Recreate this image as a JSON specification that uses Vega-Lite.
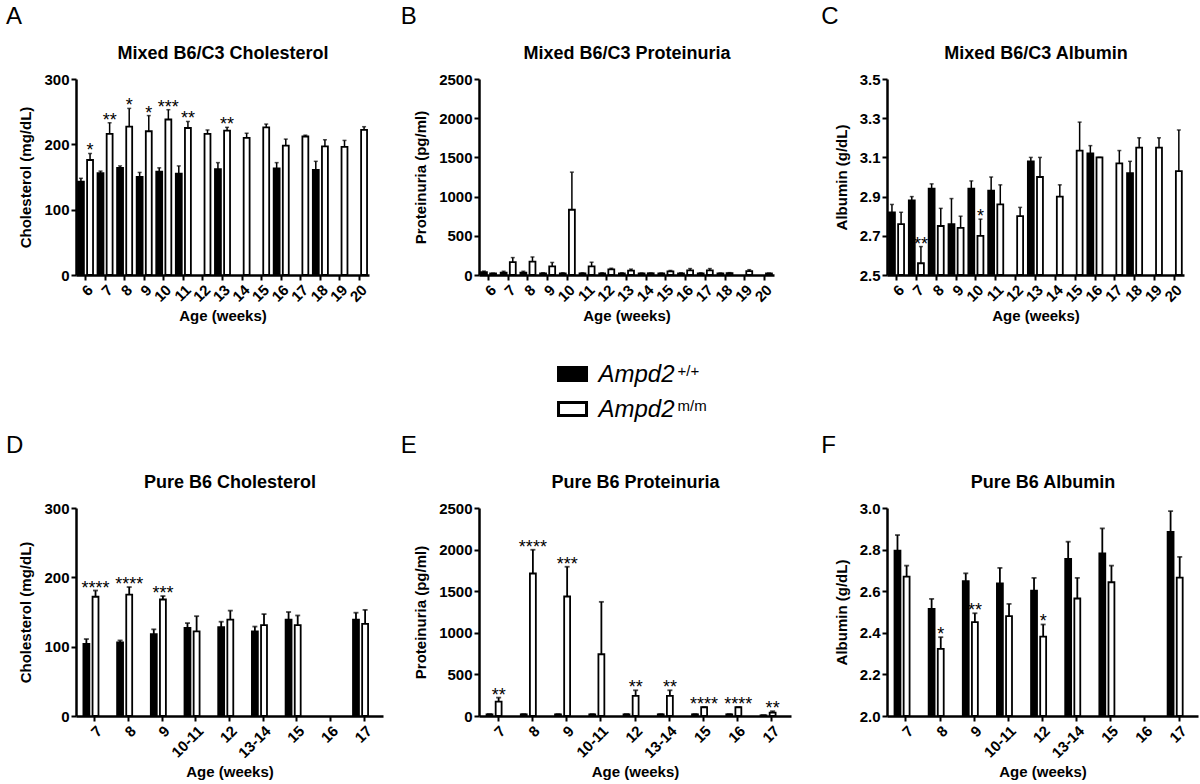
{
  "$schema": "https://vega.github.io/schema/vega-lite/v6.json",
  "padding": 5,
  "background": "white",
  "columns": 3,
  "bounds": "flush",
  "align": "each",
  "spacing": {"row": 81.5, "column": 96},
  "config": {
    "font": "Liberation Sans",
    "view": {"stroke": null},
    "axis": {"domainColor": "#000", "domainWidth": 2.5, "tickColor": "#000", "tickWidth": 2, "tickSize": 5, "labelColor": "#000", "labelFont": "Liberation Sans", "labelFontWeight": "bold", "labelFontSize": 15, "titleColor": "#000", "titleFont": "Liberation Sans", "titleFontWeight": "bold", "titleFontSize": 15, "grid": false, "labelPadding": 2},
    "axisY": {"titlePadding": 10},
    "axisX": {"labelAngle": -45, "titlePadding": 4},
    "title": {"font": "Liberation Sans", "fontSize": 24, "fontWeight": "normal", "anchor": "start", "frame": "bounds", "color": "#000", "offset": 15, "dx": -13}
  },
  "datasets": {
    "A": [
      {"age":"6","geno":"wt","mean":143,"hi":148},
      {"age":"6","geno":"mm","mean":176,"hi":186,"sig":"*"},
      {"age":"7","geno":"wt","mean":156,"hi":159},
      {"age":"7","geno":"mm","mean":216,"hi":233,"sig":"**"},
      {"age":"8","geno":"wt","mean":164,"hi":167},
      {"age":"8","geno":"mm","mean":227,"hi":255,"sig":"*"},
      {"age":"9","geno":"wt","mean":150,"hi":157},
      {"age":"9","geno":"mm","mean":220,"hi":244,"sig":"*"},
      {"age":"10","geno":"wt","mean":158,"hi":164},
      {"age":"10","geno":"mm","mean":238,"hi":253,"sig":"***"},
      {"age":"11","geno":"wt","mean":155,"hi":167},
      {"age":"11","geno":"mm","mean":225,"hi":235,"sig":"**"},
      {"age":"12","geno":"mm","mean":216,"hi":222},
      {"age":"13","geno":"wt","mean":162,"hi":172},
      {"age":"13","geno":"mm","mean":221,"hi":226,"sig":"**"},
      {"age":"14","geno":"mm","mean":210,"hi":217},
      {"age":"15","geno":"mm","mean":226,"hi":231},
      {"age":"16","geno":"wt","mean":163,"hi":172},
      {"age":"16","geno":"mm","mean":198,"hi":208},
      {"age":"17","geno":"mm","mean":212,"hi":214},
      {"age":"18","geno":"wt","mean":161,"hi":174},
      {"age":"18","geno":"mm","mean":197,"hi":207},
      {"age":"19","geno":"mm","mean":196,"hi":206},
      {"age":"20","geno":"mm","mean":222,"hi":227}
    ],
    "B": [
      {"age":"6","geno":"wt","mean":35,"hi":50},
      {"age":"6","geno":"mm","mean":20,"hi":24},
      {"age":"7","geno":"wt","mean":30,"hi":48},
      {"age":"7","geno":"mm","mean":165,"hi":222},
      {"age":"8","geno":"wt","mean":30,"hi":48},
      {"age":"8","geno":"mm","mean":170,"hi":230},
      {"age":"9","geno":"wt","mean":20,"hi":30},
      {"age":"9","geno":"mm","mean":110,"hi":160},
      {"age":"10","geno":"wt","mean":20,"hi":28},
      {"age":"10","geno":"mm","mean":832,"hi":1312},
      {"age":"11","geno":"wt","mean":20,"hi":28},
      {"age":"11","geno":"mm","mean":110,"hi":163},
      {"age":"12","geno":"wt","mean":20,"hi":28},
      {"age":"12","geno":"mm","mean":73,"hi":86},
      {"age":"13","geno":"wt","mean":20,"hi":28},
      {"age":"13","geno":"mm","mean":55,"hi":75},
      {"age":"14","geno":"wt","mean":20,"hi":26},
      {"age":"14","geno":"mm","mean":22,"hi":26},
      {"age":"15","geno":"wt","mean":20,"hi":26},
      {"age":"15","geno":"mm","mean":45,"hi":58},
      {"age":"16","geno":"wt","mean":20,"hi":28},
      {"age":"16","geno":"mm","mean":60,"hi":82},
      {"age":"17","geno":"wt","mean":20,"hi":28},
      {"age":"17","geno":"mm","mean":60,"hi":82},
      {"age":"18","geno":"wt","mean":20,"hi":26},
      {"age":"18","geno":"mm","mean":25,"hi":30},
      {"age":"19","geno":"mm","mean":50,"hi":68},
      {"age":"20","geno":"mm","mean":20,"hi":25}
    ],
    "C": [
      {"age":"6","geno":"wt","mean":2.82,"hi":2.86},
      {"age":"6","geno":"mm","mean":2.76,"hi":2.82},
      {"age":"7","geno":"wt","mean":2.88,"hi":2.9},
      {"age":"7","geno":"mm","mean":2.56,"hi":2.645,"sig":"**"},
      {"age":"8","geno":"wt","mean":2.94,"hi":2.965},
      {"age":"8","geno":"mm","mean":2.75,"hi":2.84},
      {"age":"9","geno":"wt","mean":2.76,"hi":2.89},
      {"age":"9","geno":"mm","mean":2.74,"hi":2.8},
      {"age":"10","geno":"wt","mean":2.94,"hi":2.98},
      {"age":"10","geno":"mm","mean":2.7,"hi":2.785,"sig":"*"},
      {"age":"11","geno":"wt","mean":2.93,"hi":3.0},
      {"age":"11","geno":"mm","mean":2.86,"hi":2.96},
      {"age":"12","geno":"mm","mean":2.8,"hi":2.845},
      {"age":"13","geno":"wt","mean":3.08,"hi":3.1},
      {"age":"13","geno":"mm","mean":3.0,"hi":3.1},
      {"age":"14","geno":"mm","mean":2.9,"hi":2.96},
      {"age":"15","geno":"mm","mean":3.135,"hi":3.28},
      {"age":"16","geno":"wt","mean":3.12,"hi":3.16},
      {"age":"16","geno":"mm","mean":3.1,"hi":3.1},
      {"age":"17","geno":"mm","mean":3.07,"hi":3.135},
      {"age":"18","geno":"wt","mean":3.02,"hi":3.08},
      {"age":"18","geno":"mm","mean":3.15,"hi":3.2},
      {"age":"19","geno":"mm","mean":3.15,"hi":3.2},
      {"age":"20","geno":"mm","mean":3.03,"hi":3.24}
    ],
    "D": [
      {"age":"7","geno":"wt","mean":104,"hi":111},
      {"age":"7","geno":"mm","mean":172,"hi":181,"sig":"****"},
      {"age":"8","geno":"wt","mean":106,"hi":109},
      {"age":"8","geno":"mm","mean":175,"hi":186,"sig":"****"},
      {"age":"9","geno":"wt","mean":118,"hi":125},
      {"age":"9","geno":"mm","mean":168,"hi":173,"sig":"***"},
      {"age":"10-11","geno":"wt","mean":127,"hi":134},
      {"age":"10-11","geno":"mm","mean":122,"hi":144},
      {"age":"12","geno":"wt","mean":128,"hi":136},
      {"age":"12","geno":"mm","mean":139,"hi":152},
      {"age":"13-14","geno":"wt","mean":122,"hi":129},
      {"age":"13-14","geno":"mm","mean":131,"hi":147},
      {"age":"15","geno":"wt","mean":139,"hi":150},
      {"age":"15","geno":"mm","mean":131,"hi":145},
      {"age":"17","geno":"wt","mean":139,"hi":149},
      {"age":"17","geno":"mm","mean":133,"hi":153}
    ],
    "E": [
      {"age":"7","geno":"wt","mean":20,"hi":24},
      {"age":"7","geno":"mm","mean":172,"hi":221,"sig":"**"},
      {"age":"8","geno":"wt","mean":20,"hi":24},
      {"age":"8","geno":"mm","mean":1713,"hi":1998,"sig":"****"},
      {"age":"9","geno":"wt","mean":20,"hi":24},
      {"age":"9","geno":"mm","mean":1436,"hi":1794,"sig":"***"},
      {"age":"10-11","geno":"wt","mean":20,"hi":24},
      {"age":"10-11","geno":"mm","mean":742,"hi":1372},
      {"age":"12","geno":"wt","mean":20,"hi":24},
      {"age":"12","geno":"mm","mean":241,"hi":309,"sig":"**"},
      {"age":"13-14","geno":"wt","mean":20,"hi":24},
      {"age":"13-14","geno":"mm","mean":241,"hi":309,"sig":"**"},
      {"age":"15","geno":"wt","mean":20,"hi":24},
      {"age":"15","geno":"mm","mean":105,"hi":108,"sig":"****"},
      {"age":"16","geno":"wt","mean":20,"hi":24},
      {"age":"16","geno":"mm","mean":105,"hi":108,"sig":"****"},
      {"age":"17","geno":"wt","mean":8,"hi":10},
      {"age":"17","geno":"mm","mean":40,"hi":58,"sig":"**"}
    ],
    "F": [
      {"age":"7","geno":"wt","mean":2.795,"hi":2.87},
      {"age":"7","geno":"mm","mean":2.67,"hi":2.723},
      {"age":"8","geno":"wt","mean":2.515,"hi":2.563},
      {"age":"8","geno":"mm","mean":2.323,"hi":2.379,"sig":"*"},
      {"age":"9","geno":"wt","mean":2.648,"hi":2.686},
      {"age":"9","geno":"mm","mean":2.451,"hi":2.494,"sig":"**"},
      {"age":"10-11","geno":"wt","mean":2.638,"hi":2.712},
      {"age":"10-11","geno":"mm","mean":2.48,"hi":2.539},
      {"age":"12","geno":"wt","mean":2.603,"hi":2.664},
      {"age":"12","geno":"mm","mean":2.382,"hi":2.44,"sig":"*"},
      {"age":"13-14","geno":"wt","mean":2.755,"hi":2.838},
      {"age":"13-14","geno":"mm","mean":2.565,"hi":2.664},
      {"age":"15","geno":"wt","mean":2.782,"hi":2.902},
      {"age":"15","geno":"mm","mean":2.643,"hi":2.723},
      {"age":"17","geno":"wt","mean":2.885,"hi":2.985},
      {"age":"17","geno":"mm","mean":2.665,"hi":2.765}
    ],
    "legend": [
      {"geno":"wt","name":"Ampd2","sup":"+/+"},
      {"geno":"mm","name":"Ampd2","sup":"m/m"}
    ]
  },
  "concat": [
    {
      "width": 293, "height": 196,
      "title": {"text": "A"},
      "data": {"name": "A"},
      "encoding": {
        "x": {"field": "age", "type": "nominal", "sort": null, "scale": {"domain": ["6","7","8","9","10","11","12","13","14","15","16","17","18","19","20"], "paddingInner": 0.23, "paddingOuter": 0.1}, "axis": null},
        "xOffset": {"field": "geno", "type": "nominal", "scale": {"domain": ["wt","mm"], "paddingInner": 0.35, "paddingOuter": 0}},
        "y": {"field": "mean", "type": "quantitative", "scale": {"domain": [0, 300], "nice": false}, "axis": {"title": "Cholesterol (mg/dL)", "values": [0, 100, 200, 300], "format": "d"}}
      },
      "layer": [
        {"mark": {"type": "bar", "stroke": "#000", "strokeWidth": 1.8},
         "encoding": {
           "x": {"field": "age", "type": "nominal", "sort": null, "scale": {"domain": ["6","7","8","9","10","11","12","13","14","15","16","17","18","19","20"], "paddingInner": 0.23, "paddingOuter": 0.1}, "axis": {"orient": "bottom", "title": "Age (weeks)"}},
           "fill": {"field": "geno", "type": "nominal", "scale": {"domain": ["wt","mm"], "range": ["#000","#fff"]}, "legend": null}}},
        {"mark": {"type": "rule", "color": "#000", "strokeWidth": 1.5},
         "encoding": {"y2": {"field": "hi"}}},
        {"mark": {"type": "tick", "orient": "horizontal", "size": 4, "thickness": 1.5, "color": "#000"},
         "encoding": {"y": {"field": "hi", "type": "quantitative", "scale": {"domain": [0, 300], "nice": false}, "axis": {"title": "Cholesterol (mg/dL)", "values": [0, 100, 200, 300], "format": "d"}}}},
        {"transform": [{"filter": "datum.sig"}],
         "mark": {"type": "text", "fontSize": 18, "baseline": "alphabetic", "dy": 3, "color": "#000"},
         "encoding": {
           "x": {"field": "age", "type": "nominal", "sort": null, "scale": {"domain": ["6","7","8","9","10","11","12","13","14","15","16","17","18","19","20"], "paddingInner": 0.23, "paddingOuter": 0.1}, "axis": {"orient": "top", "title": "Mixed B6/C3 Cholesterol", "labels": false, "ticks": false, "domain": false, "titleFontSize": 18, "titlePadding": 17}},
           "y": {"field": "hi", "type": "quantitative", "scale": {"domain": [0, 300], "nice": false}, "axis": {"title": "Cholesterol (mg/dL)", "values": [0, 100, 200, 300], "format": "d"}},
           "text": {"field": "sig"}}}
      ]
    },
    {
      "width": 295, "height": 196,
      "title": {"text": "B"},
      "data": {"name": "B"},
      "encoding": {
        "x": {"field": "age", "type": "nominal", "sort": null, "scale": {"domain": ["6","7","8","9","10","11","12","13","14","15","16","17","18","19","20"], "paddingInner": 0.23, "paddingOuter": 0.1}, "axis": null},
        "xOffset": {"field": "geno", "type": "nominal", "scale": {"domain": ["wt","mm"], "paddingInner": 0.35, "paddingOuter": 0}},
        "y": {"field": "mean", "type": "quantitative", "scale": {"domain": [0, 2500], "nice": false}, "axis": {"title": "Proteinuria (pg/ml)", "values": [0, 500, 1000, 1500, 2000, 2500], "format": "d"}}
      },
      "layer": [
        {"mark": {"type": "bar", "stroke": "#000", "strokeWidth": 1.8},
         "encoding": {
           "x": {"field": "age", "type": "nominal", "sort": null, "scale": {"domain": ["6","7","8","9","10","11","12","13","14","15","16","17","18","19","20"], "paddingInner": 0.23, "paddingOuter": 0.1}, "axis": {"orient": "bottom", "title": "Age (weeks)"}},
           "fill": {"field": "geno", "type": "nominal", "scale": {"domain": ["wt","mm"], "range": ["#000","#fff"]}, "legend": null}}},
        {"mark": {"type": "rule", "color": "#000", "strokeWidth": 1.5},
         "encoding": {"y2": {"field": "hi"}}},
        {"mark": {"type": "tick", "orient": "horizontal", "size": 4, "thickness": 1.5, "color": "#000"},
         "encoding": {"y": {"field": "hi", "type": "quantitative", "scale": {"domain": [0, 2500], "nice": false}, "axis": {"title": "Proteinuria (pg/ml)", "values": [0, 500, 1000, 1500, 2000, 2500], "format": "d"}}}},
        {"transform": [{"filter": "datum.sig"}],
         "mark": {"type": "text", "fontSize": 18, "baseline": "alphabetic", "dy": 3, "color": "#000"},
         "encoding": {
           "x": {"field": "age", "type": "nominal", "sort": null, "scale": {"domain": ["6","7","8","9","10","11","12","13","14","15","16","17","18","19","20"], "paddingInner": 0.23, "paddingOuter": 0.1}, "axis": {"orient": "top", "title": "Mixed B6/C3 Proteinuria", "labels": false, "ticks": false, "domain": false, "titleFontSize": 18, "titlePadding": 17}},
           "y": {"field": "hi", "type": "quantitative", "scale": {"domain": [0, 2500], "nice": false}, "axis": {"title": "Proteinuria (pg/ml)", "values": [0, 500, 1000, 1500, 2000, 2500], "format": "d"}},
           "text": {"field": "sig"}}}
      ]
    },
    {
      "width": 297, "height": 196,
      "title": {"text": "C"},
      "data": {"name": "C"},
      "encoding": {
        "x": {"field": "age", "type": "nominal", "sort": null, "scale": {"domain": ["6","7","8","9","10","11","12","13","14","15","16","17","18","19","20"], "paddingInner": 0.23, "paddingOuter": 0.1}, "axis": null},
        "xOffset": {"field": "geno", "type": "nominal", "scale": {"domain": ["wt","mm"], "paddingInner": 0.35, "paddingOuter": 0}},
        "y": {"field": "mean", "type": "quantitative", "scale": {"domain": [2.5, 3.5], "nice": false, "zero": false}, "axis": {"title": "Albumin (g/dL)", "values": [2.5, 2.7, 2.9, 3.1, 3.3, 3.5], "format": ".1f"}}
      },
      "layer": [
        {"mark": {"type": "bar", "stroke": "#000", "strokeWidth": 1.8},
         "encoding": {
           "x": {"field": "age", "type": "nominal", "sort": null, "scale": {"domain": ["6","7","8","9","10","11","12","13","14","15","16","17","18","19","20"], "paddingInner": 0.23, "paddingOuter": 0.1}, "axis": {"orient": "bottom", "title": "Age (weeks)"}},
           "y2": {"datum": 2.5},
           "fill": {"field": "geno", "type": "nominal", "scale": {"domain": ["wt","mm"], "range": ["#000","#fff"]}, "legend": null}}},
        {"mark": {"type": "rule", "color": "#000", "strokeWidth": 1.5},
         "encoding": {"y2": {"field": "hi"}}},
        {"mark": {"type": "tick", "orient": "horizontal", "size": 4, "thickness": 1.5, "color": "#000"},
         "encoding": {"y": {"field": "hi", "type": "quantitative", "scale": {"domain": [2.5, 3.5], "nice": false, "zero": false}, "axis": {"title": "Albumin (g/dL)", "values": [2.5, 2.7, 2.9, 3.1, 3.3, 3.5], "format": ".1f"}}}},
        {"transform": [{"filter": "datum.sig"}],
         "mark": {"type": "text", "fontSize": 18, "baseline": "alphabetic", "dy": 3, "color": "#000"},
         "encoding": {
           "x": {"field": "age", "type": "nominal", "sort": null, "scale": {"domain": ["6","7","8","9","10","11","12","13","14","15","16","17","18","19","20"], "paddingInner": 0.23, "paddingOuter": 0.1}, "axis": {"orient": "top", "title": "Mixed B6/C3 Albumin", "labels": false, "ticks": false, "domain": false, "titleFontSize": 18, "titlePadding": 17}},
           "y": {"field": "hi", "type": "quantitative", "scale": {"domain": [2.5, 3.5], "nice": false, "zero": false}, "axis": {"title": "Albumin (g/dL)", "values": [2.5, 2.7, 2.9, 3.1, 3.3, 3.5], "format": ".1f"}},
           "text": {"field": "sig"}}}
      ]
    },
    {
      "width": 1, "height": 1,
      "data": {"values": [{"k": 1}]},
      "mark": {"type": "point", "opacity": 0},
      "encoding": {}
    },
    {
      "width": 213, "height": 70,
      "data": {"name": "legend"},
      "encoding": {
        "y": {"field": "geno", "type": "nominal", "sort": null, "scale": {"type": "point", "domain": ["wt","mm"], "padding": 0.5}, "axis": null}
      },
      "layer": [
        {"mark": {"type": "point", "shape": "M-1,-0.46H1V0.46H-1Z", "size": 784, "filled": true, "stroke": "#000", "strokeWidth": 3, "opacity": 1},
         "encoding": {
           "x": {"datum": 0, "type": "quantitative", "scale": {"domain": [-3.6, 4.6], "nice": false, "zero": false}, "axis": null},
           "fill": {"field": "geno", "type": "nominal", "scale": {"domain": ["wt","mm"], "range": ["#000","#fff"]}, "legend": null}}},
        {"mark": {"type": "text", "align": "left", "baseline": "alphabetic", "dy": 8, "fontSize": 24, "fontStyle": "italic", "color": "#000"},
         "encoding": {
           "x": {"datum": 1, "type": "quantitative", "scale": {"domain": [-3.6, 4.6], "nice": false, "zero": false}, "axis": null},
           "text": {"field": "name"}}},
        {"mark": {"type": "text", "align": "left", "baseline": "alphabetic", "dx": 79, "dy": 2, "fontSize": 15, "color": "#000"},
         "encoding": {
           "x": {"datum": 1, "type": "quantitative", "scale": {"domain": [-3.6, 4.6], "nice": false, "zero": false}, "axis": null},
           "text": {"field": "sup"}}}
      ]
    },
    {
      "width": 1, "height": 1,
      "data": {"values": [{"k": 1}]},
      "mark": {"type": "point", "opacity": 0},
      "encoding": {}
    },
    {
      "width": 307, "height": 208,
      "title": {"text": "D"},
      "data": {"name": "D"},
      "encoding": {
        "x": {"field": "age", "type": "nominal", "sort": null, "scale": {"domain": ["7","8","9","10-11","12","13-14","15","16","17"], "paddingInner": 0.33, "paddingOuter": 0.22}, "axis": null},
        "xOffset": {"field": "geno", "type": "nominal", "scale": {"domain": ["wt","mm"], "paddingInner": 0.35, "paddingOuter": 0}},
        "y": {"field": "mean", "type": "quantitative", "scale": {"domain": [0, 300], "nice": false}, "axis": {"title": "Cholesterol (mg/dL)", "values": [0, 100, 200, 300], "format": "d"}}
      },
      "layer": [
        {"mark": {"type": "bar", "stroke": "#000", "strokeWidth": 1.8},
         "encoding": {
           "x": {"field": "age", "type": "nominal", "sort": null, "scale": {"domain": ["7","8","9","10-11","12","13-14","15","16","17"], "paddingInner": 0.33, "paddingOuter": 0.22}, "axis": {"orient": "bottom", "title": "Age (weeks)"}},
           "fill": {"field": "geno", "type": "nominal", "scale": {"domain": ["wt","mm"], "range": ["#000","#fff"]}, "legend": null}}},
        {"mark": {"type": "rule", "color": "#000", "strokeWidth": 1.8},
         "encoding": {"y2": {"field": "hi"}}},
        {"mark": {"type": "tick", "orient": "horizontal", "size": 5, "thickness": 1.8, "color": "#000"},
         "encoding": {"y": {"field": "hi", "type": "quantitative", "scale": {"domain": [0, 300], "nice": false}, "axis": {"title": "Cholesterol (mg/dL)", "values": [0, 100, 200, 300], "format": "d"}}}},
        {"transform": [{"filter": "datum.sig"}],
         "mark": {"type": "text", "fontSize": 18, "baseline": "alphabetic", "dy": 3, "color": "#000"},
         "encoding": {
           "x": {"field": "age", "type": "nominal", "sort": null, "scale": {"domain": ["7","8","9","10-11","12","13-14","15","16","17"], "paddingInner": 0.33, "paddingOuter": 0.22}, "axis": {"orient": "top", "title": "Pure B6 Cholesterol", "labels": false, "ticks": false, "domain": false, "titleFontSize": 18, "titlePadding": 17}},
           "y": {"field": "hi", "type": "quantitative", "scale": {"domain": [0, 300], "nice": false}, "axis": {"title": "Cholesterol (mg/dL)", "values": [0, 100, 200, 300], "format": "d"}},
           "text": {"field": "sig"}}}
      ]
    },
    {
      "width": 312, "height": 208,
      "title": {"text": "E"},
      "data": {"name": "E"},
      "encoding": {
        "x": {"field": "age", "type": "nominal", "sort": null, "scale": {"domain": ["7","8","9","10-11","12","13-14","15","16","17"], "paddingInner": 0.33, "paddingOuter": 0.22}, "axis": null},
        "xOffset": {"field": "geno", "type": "nominal", "scale": {"domain": ["wt","mm"], "paddingInner": 0.35, "paddingOuter": 0}},
        "y": {"field": "mean", "type": "quantitative", "scale": {"domain": [0, 2500], "nice": false}, "axis": {"title": "Proteinuria (pg/ml)", "values": [0, 500, 1000, 1500, 2000, 2500], "format": "d"}}
      },
      "layer": [
        {"mark": {"type": "bar", "stroke": "#000", "strokeWidth": 1.8},
         "encoding": {
           "x": {"field": "age", "type": "nominal", "sort": null, "scale": {"domain": ["7","8","9","10-11","12","13-14","15","16","17"], "paddingInner": 0.33, "paddingOuter": 0.22}, "axis": {"orient": "bottom", "title": "Age (weeks)"}},
           "fill": {"field": "geno", "type": "nominal", "scale": {"domain": ["wt","mm"], "range": ["#000","#fff"]}, "legend": null}}},
        {"mark": {"type": "rule", "color": "#000", "strokeWidth": 1.8},
         "encoding": {"y2": {"field": "hi"}}},
        {"mark": {"type": "tick", "orient": "horizontal", "size": 5, "thickness": 1.8, "color": "#000"},
         "encoding": {"y": {"field": "hi", "type": "quantitative", "scale": {"domain": [0, 2500], "nice": false}, "axis": {"title": "Proteinuria (pg/ml)", "values": [0, 500, 1000, 1500, 2000, 2500], "format": "d"}}}},
        {"transform": [{"filter": "datum.sig"}],
         "mark": {"type": "text", "fontSize": 18, "baseline": "alphabetic", "dy": 3, "color": "#000"},
         "encoding": {
           "x": {"field": "age", "type": "nominal", "sort": null, "scale": {"domain": ["7","8","9","10-11","12","13-14","15","16","17"], "paddingInner": 0.33, "paddingOuter": 0.22}, "axis": {"orient": "top", "title": "Pure B6 Proteinuria", "labels": false, "ticks": false, "domain": false, "titleFontSize": 18, "titlePadding": 17}},
           "y": {"field": "hi", "type": "quantitative", "scale": {"domain": [0, 2500], "nice": false}, "axis": {"title": "Proteinuria (pg/ml)", "values": [0, 500, 1000, 1500, 2000, 2500], "format": "d"}},
           "text": {"field": "sig"}}}
      ]
    },
    {
      "width": 311, "height": 208,
      "title": {"text": "F"},
      "data": {"name": "F"},
      "encoding": {
        "x": {"field": "age", "type": "nominal", "sort": null, "scale": {"domain": ["7","8","9","10-11","12","13-14","15","16","17"], "paddingInner": 0.33, "paddingOuter": 0.22}, "axis": null},
        "xOffset": {"field": "geno", "type": "nominal", "scale": {"domain": ["wt","mm"], "paddingInner": 0.35, "paddingOuter": 0}},
        "y": {"field": "mean", "type": "quantitative", "scale": {"domain": [2.0, 3.0], "nice": false, "zero": false}, "axis": {"title": "Albumin (g/dL)", "values": [2.0, 2.2, 2.4, 2.6, 2.8, 3.0], "format": ".1f"}}
      },
      "layer": [
        {"mark": {"type": "bar", "stroke": "#000", "strokeWidth": 1.8},
         "encoding": {
           "x": {"field": "age", "type": "nominal", "sort": null, "scale": {"domain": ["7","8","9","10-11","12","13-14","15","16","17"], "paddingInner": 0.33, "paddingOuter": 0.22}, "axis": {"orient": "bottom", "title": "Age (weeks)"}},
           "y2": {"datum": 2.0},
           "fill": {"field": "geno", "type": "nominal", "scale": {"domain": ["wt","mm"], "range": ["#000","#fff"]}, "legend": null}}},
        {"mark": {"type": "rule", "color": "#000", "strokeWidth": 1.8},
         "encoding": {"y2": {"field": "hi"}}},
        {"mark": {"type": "tick", "orient": "horizontal", "size": 5, "thickness": 1.8, "color": "#000"},
         "encoding": {"y": {"field": "hi", "type": "quantitative", "scale": {"domain": [2.0, 3.0], "nice": false, "zero": false}, "axis": {"title": "Albumin (g/dL)", "values": [2.0, 2.2, 2.4, 2.6, 2.8, 3.0], "format": ".1f"}}}},
        {"transform": [{"filter": "datum.sig"}],
         "mark": {"type": "text", "fontSize": 18, "baseline": "alphabetic", "dy": 3, "color": "#000"},
         "encoding": {
           "x": {"field": "age", "type": "nominal", "sort": null, "scale": {"domain": ["7","8","9","10-11","12","13-14","15","16","17"], "paddingInner": 0.33, "paddingOuter": 0.22}, "axis": {"orient": "top", "title": "Pure B6 Albumin", "labels": false, "ticks": false, "domain": false, "titleFontSize": 18, "titlePadding": 17}},
           "y": {"field": "hi", "type": "quantitative", "scale": {"domain": [2.0, 3.0], "nice": false, "zero": false}, "axis": {"title": "Albumin (g/dL)", "values": [2.0, 2.2, 2.4, 2.6, 2.8, 3.0], "format": ".1f"}},
           "text": {"field": "sig"}}}
      ]
    }
  ]
}
